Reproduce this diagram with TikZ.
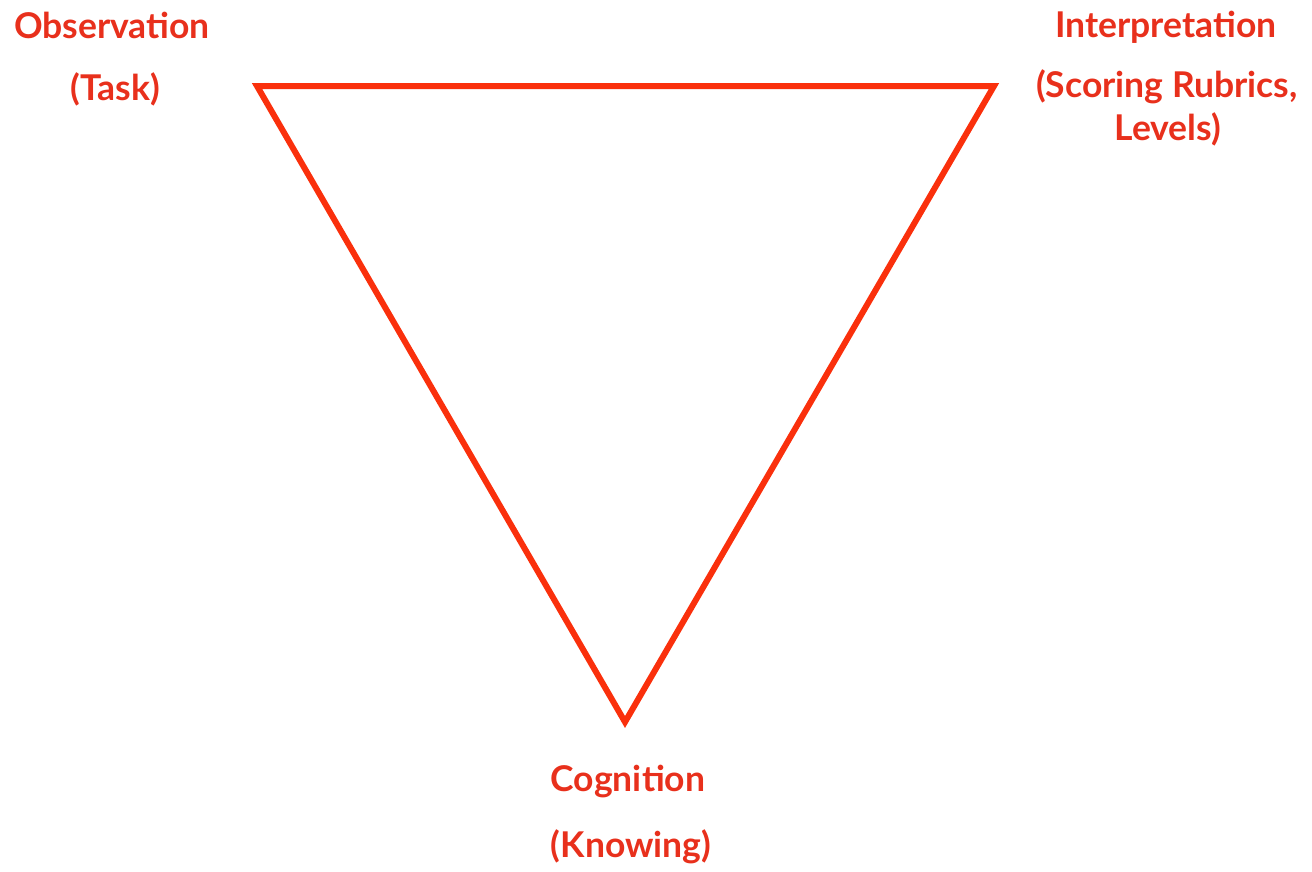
\documentclass[tikz,border=0pt]{standalone}
\usepackage{fontspec}
\setmainfont{Lato}
\begin{document}
\begin{tikzpicture}[x=1pt,y=-1pt,
  lbl/.style={text=txtred,font=\fontsize{35.5}{40}\selectfont\bfseries,anchor=base,inner sep=0pt},
  tri/.style={draw=linered,line width=6pt,miter limit=20}]
\definecolor{txtred}{RGB}{232,48,28}
\definecolor{linered}{RGB}{250,48,12}
\useasboundingbox (0,0) rectangle (1312,871);
\coordinate (tl) at (257,86);
\coordinate (tr) at (994,86);
\coordinate (bt) at (625,722);
\draw[tri] (tl) -- (tr) -- (bt) -- cycle;
\node[lbl] (obs) at (112,38) {Observation};
\node[lbl] (task) at (115,100) {(Task)};
\node[lbl] (int) at (1166,37) {Interpretation};
\node[lbl] (scr) at (1167,97) {(Scoring Rubrics,};
\node[lbl] (lev) at (1168,140) {Levels)};
\node[lbl] (cog) at (628,791) {Cognition};
\node[lbl] (kno) at (631,857) {(Knowing)};
\end{tikzpicture}
\end{document}
